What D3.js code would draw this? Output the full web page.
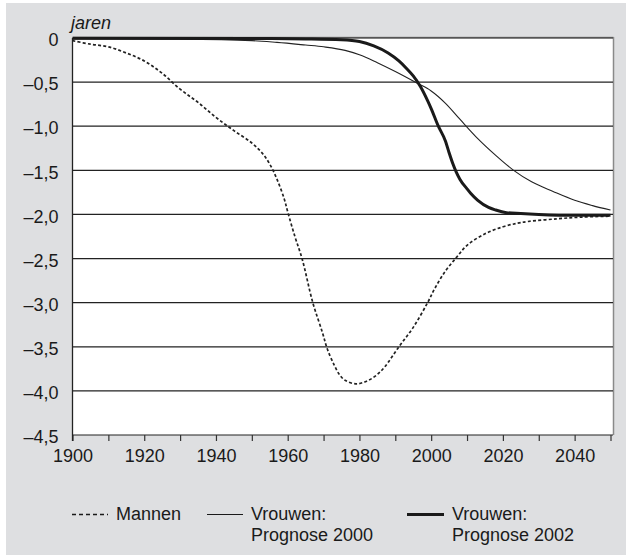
<!DOCTYPE html>
<html><head><meta charset="utf-8">
<script src="https://cdn.jsdelivr.net/npm/d3@7"></script>
<style>
html,body{margin:0;padding:0;background:#fff;}
svg{display:block;font-family:"Liberation Sans",Arial,sans-serif;}
</style></head>
<body>
<svg id="c" width="626" height="555"></svg>
<script>
// ---- data ----
const yTicks = [0, -0.5, -1.0, -1.5, -2.0, -2.5, -3.0, -3.5, -4.0, -4.5];
const yTickLabels = ["0", "–0,5", "–1,0", "–1,5", "–2,0", "–2,5", "–3,0", "–3,5", "–4,0", "–4,5"];
const xTicks = [1900, 1910, 1920, 1930, 1940, 1950, 1960, 1970, 1980, 1990, 2000, 2010, 2020, 2030, 2040, 2050];
const xTickLabels = ["1900", "", "1920", "", "1940", "", "1960", "", "1980", "", "2000", "", "2020", "", "2040", ""];
const yUnit = "jaren";
const seriesNames = ["Mannen", "Vrouwen:|Prognose 2000", "Vrouwen:|Prognose 2002"];

const mannenYears = [1900,1905,1910,1915,1920,1925,1930,1935,1940,1945,1950,1953,1955,1957,1959,1960,1962,1964,1967,1969.7,1971,1973,1974.5,1976,1979,1982,1984.5,1987,1991,1995,1999,2001,2004,2007,2010,2015,2020,2024,2027,2035,2042,2050];
const mannenValues = [-0.03,-0.07,-0.10,-0.17,-0.26,-0.40,-0.58,-0.73,-0.90,-1.05,-1.19,-1.31,-1.43,-1.60,-1.82,-1.97,-2.25,-2.50,-3.00,-3.34,-3.52,-3.71,-3.82,-3.88,-3.92,-3.89,-3.83,-3.73,-3.50,-3.28,-3.00,-2.84,-2.64,-2.49,-2.35,-2.22,-2.14,-2.10,-2.08,-2.05,-2.03,-2.02];

const p2000Years = [1900,1930,1950,1957,1965,1970,1976,1980,1985,1990,1996,2000,2004,2008,2013,2018,2023,2028,2034,2040,2045,2050];
const p2000Values = [-0.01,-0.015,-0.03,-0.05,-0.08,-0.10,-0.14,-0.19,-0.28,-0.38,-0.51,-0.60,-0.74,-0.92,-1.14,-1.33,-1.50,-1.63,-1.74,-1.84,-1.90,-1.95];

const p2002Years = [1900,1950,1965,1975,1980,1984,1988,1991,1993,1995,1997,1999,2000,2002,2004,2005,2006,2007,2008,2010,2011,2013,2016,2018,2021,2025,2030,2040,2050];
const p2002Values = [-0.003,-0.005,-0.01,-0.02,-0.04,-0.09,-0.17,-0.26,-0.34,-0.43,-0.55,-0.71,-0.80,-1.00,-1.17,-1.30,-1.42,-1.52,-1.60,-1.71,-1.76,-1.84,-1.92,-1.95,-1.98,-1.99,-2.00,-2.01,-2.01];

// ---- layout ----
const svg = d3.select("#c");
const L = 72.5, R = 610.5, T = 38, B = 435;
const FS = 18;
const x = d3.scaleLinear().domain([1900, 2050]).range([L, R]);
const y = d3.scaleLinear().domain([0, -4.5]).range([T, B]);

svg.append("rect").attr("x", 6).attr("y", 3).attr("width", 620).attr("height", 552).attr("fill", "#dedfe1");
svg.append("rect").attr("x", L).attr("y", T).attr("width", 613 - L).attr("height", B - T).attr("fill", "#fff");

// plot border (top/right gray)
svg.append("line").attr("x1", L).attr("x2", 613.5).attr("y1", T - 0.5).attr("y2", T - 0.5).attr("stroke", "#8a8a8a").attr("stroke-width", 1.5);
svg.append("line").attr("x1", 613.5).attr("x2", 613.5).attr("y1", T - 1).attr("y2", B).attr("stroke", "#8a8a8a").attr("stroke-width", 1.5);

// gridlines
svg.append("g").selectAll("line").data(yTicks).join("line")
  .attr("x1", L).attr("x2", 613)
  .attr("y1", d => y(d)).attr("y2", d => y(d))
  .attr("stroke", "#222").attr("stroke-width", 1.2);

// x axis
const xAxis = d3.axisBottom(x).tickValues(xTicks).tickSize(6).tickPadding(5)
  .tickFormat((d, i) => xTickLabels[i]);
const gx = svg.append("g").attr("transform", `translate(0,${B})`).call(xAxis);
gx.select(".domain").remove();
gx.selectAll(".tick line").attr("stroke", "#333").attr("stroke-width", 1.2);
gx.selectAll(".tick text").attr("font-size", FS).attr("fill", "#1a1a1a").attr("dy", "0.9em");

// y axis
const yAxis = d3.axisLeft(y).tickValues(yTicks).tickSize(0).tickPadding(14)
  .tickFormat((d, i) => yTickLabels[i]);
const gy = svg.append("g").attr("transform", `translate(${L},0)`).call(yAxis);
gy.select(".domain").remove();
gy.selectAll(".tick text").attr("font-size", FS).attr("fill", "#1a1a1a").attr("dy", "0.43em");

svg.append("line").attr("x1", L).attr("x2", L).attr("y1", T).attr("y2", B + 6).attr("stroke", "#222").attr("stroke-width", 1.3);

svg.append("text").attr("x", 71).attr("y", 29).attr("font-size", FS).attr("font-style", "italic").attr("fill", "#1a1a1a").text(yUnit);

// series
svg.append("clipPath").attr("id", "pc").append("rect").attr("x", L).attr("y", T - 2).attr("width", 613 - L).attr("height", B - T + 2);
const line = d3.line().x(d => x(d[0])).y(d => y(d[1])).curve(d3.curveMonotoneX);
const smooth = d3.line().x(d => x(d[0])).y(d => y(d[1])).curve(d3.curveCatmullRom.alpha(0.5));
const g = svg.append("g").attr("clip-path", "url(#pc)");
g.append("path").datum(d3.zip(p2000Years, p2000Values)).attr("d", line)
  .attr("fill", "none").attr("stroke", "#222").attr("stroke-width", 1.1);
g.append("path").datum(d3.zip(mannenYears, mannenValues)).attr("d", smooth)
  .attr("fill", "none").attr("stroke", "#222").attr("stroke-width", 1.7).attr("stroke-dasharray", "3,2.2");
g.append("path").datum(d3.zip(p2002Years, p2002Values)).attr("d", line)
  .attr("fill", "none").attr("stroke", "#1a1a1a").attr("stroke-width", 3);

// legend
const legend = [
  {x1: 72, x2: 108, tx: 116, dash: "4,3", w: 1.3},
  {x1: 207, x2: 243, tx: 251, dash: null, w: 1.2},
  {x1: 407, x2: 444, tx: 452, dash: null, w: 3}
];
legend.forEach((l, i) => {
  svg.append("line").attr("x1", l.x1).attr("x2", l.x2).attr("y1", 514.5).attr("y2", 514.5)
    .attr("stroke", "#1a1a1a").attr("stroke-width", l.w).attr("stroke-dasharray", l.dash);
  const parts = seriesNames[i].split("|");
  parts.forEach((p, j) => {
    svg.append("text").attr("x", l.tx).attr("y", 519.5 + j * 21).attr("font-size", FS).attr("fill", "#1a1a1a").text(p);
  });
});
</script>
</body></html>
